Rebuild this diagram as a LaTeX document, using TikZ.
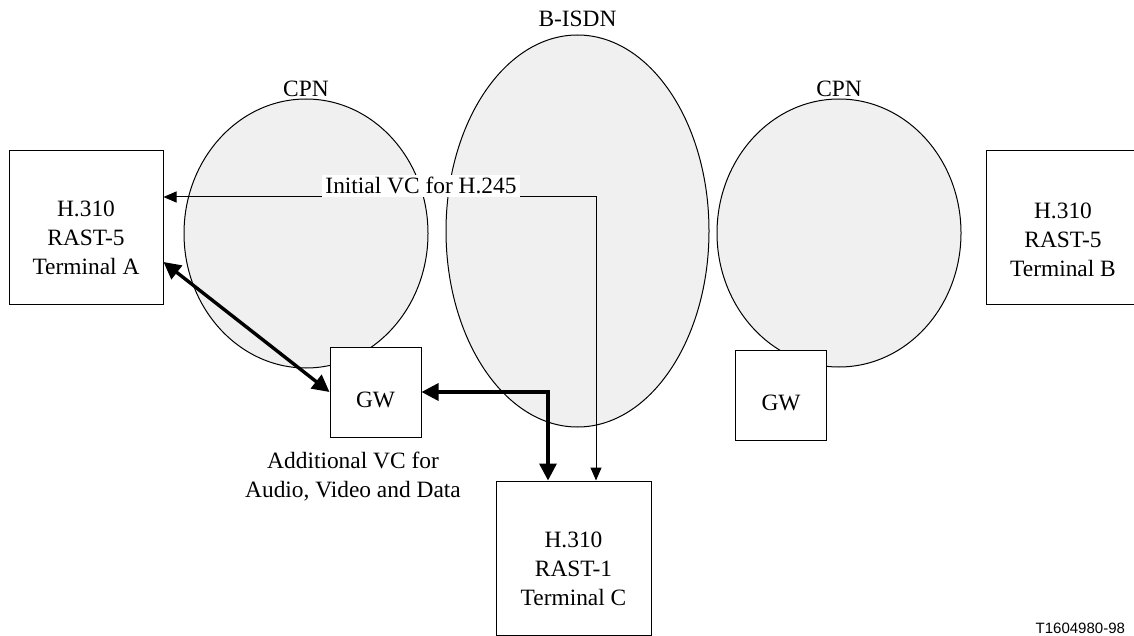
\documentclass[tikz,border=0pt]{standalone}
\usepackage{fontspec}
\setmainfont{Liberation Serif}
\newfontfamily\figsans{Liberation Sans}
\usetikzlibrary{shapes.geometric,arrows.meta}

\begin{document}
\begin{tikzpicture}[x=0.5pt, y=-0.5pt,
    every node/.style={font=\fontsize{11.7}{14.5}\selectfont},
    net/.style={draw, ellipse, fill=gray!12, inner sep=0pt, line width=0.5pt},
    box/.style={draw, fill=white, inner sep=0pt, line width=0.5pt},
    vcthin/.style={line width=0.5pt,
      {Triangle[length=6.5pt,width=5.5pt]}-{Triangle[length=6.5pt,width=5.5pt]}},
    vcthick/.style={line width=1.7pt,
      {Triangle[length=8.5pt,width=8.5pt]}-{Triangle[length=8.5pt,width=8.5pt]}}]
    \useasboundingbox (0,0) rectangle (1134,636);
    \clip (0,0) rectangle (1134,636);

    % networks
    \node[net, minimum width=122pt, minimum height=134.5pt] (cpnL) at (306,233.5) {};
    \node[net, minimum width=131.5pt, minimum height=196pt] (isdn) at (577.5,231) {};
    \node[net, minimum width=122pt, minimum height=134pt] (cpnR) at (839,233) {};
    \node[anchor=base] (cpnLlab) at ([yshift=1pt]cpnL.north) {CPN};
    \node[anchor=base] (isdnlab) at ([yshift=4pt]isdn.north) {B-ISDN};
    \node[anchor=base] (cpnRlab) at ([yshift=1pt]cpnR.north) {CPN};

    % terminals
    \node[box, minimum width=77pt, minimum height=76.5pt,
      label={[yshift=-5pt, align=center]center:H.310\\RAST-5\\Terminal A}] (tA) at (86,227.5) {};
    \node[box, minimum width=77pt, minimum height=76.5pt,
      label={[yshift=-6pt, align=center]center:H.310\\RAST-5\\Terminal B}] (tB) at (1063,227.5) {};
    \node[box, minimum width=77.5pt, minimum height=77pt,
      label={[yshift=-5.5pt, align=center]center:H.310\\RAST-1\\Terminal C}] (tC) at (573.5,558) {};

    % gateways
    \node[box, minimum width=45.5pt, minimum height=45pt,
      label={[yshift=-4pt]center:GW}] (gwL) at (375.5,392) {};
    \node[box, minimum width=45.5pt, minimum height=45pt,
      label={[yshift=-4pt]center:GW}] (gwR) at (781,395) {};

    % initial VC
    \coordinate (bend) at (596,197);
    \draw[vcthin] (tA.east |- bend) -- (bend) -- (bend |- tC.north);
    \node[fill=white, inner sep=1.5pt, anchor=base] (h245) at (421,194) {Initial VC for H.245};

    % additional VC
    \draw[vcthick] ([yshift=-17.25pt]tA.east) -- (gwL.west);
    \draw[vcthick] (gwL.east) -| ([xshift=-12.75pt]tC.north);
    \node[align=center] (addvc) at (353,477) {Additional VC for\\Audio, Video and Data};

    \node[anchor=base east, font=\figsans\fontsize{7.5}{9}\selectfont] (fig) at (1132,633) {T1604980-98};
  \end{tikzpicture}
\end{document}
